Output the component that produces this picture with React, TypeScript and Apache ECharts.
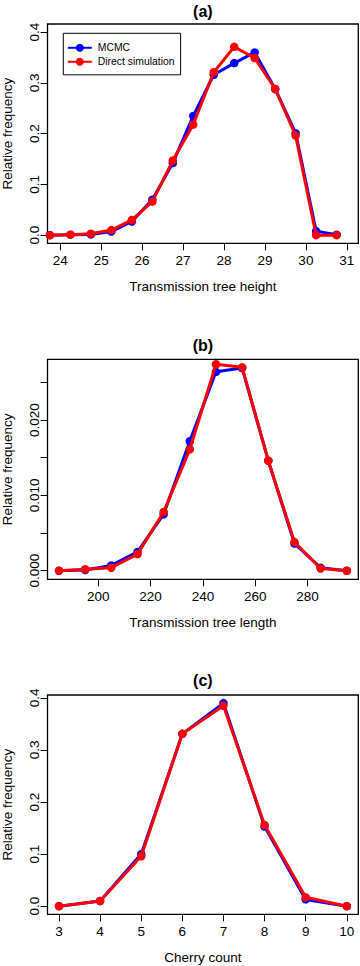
import React, { useEffect, useRef } from "react";
import * as echarts from "echarts";

// Panel (a): transmission tree height
const heightX = [23.75, 24.25, 24.75, 25.25, 25.75, 26.25, 26.75, 27.25, 27.75, 28.25, 28.75, 29.25, 29.75, 30.25, 30.75];
const heightMCMC = [0, 0.001, 0.0015, 0.007, 0.027, 0.07, 0.142, 0.235, 0.316, 0.339, 0.36, 0.288, 0.201, 0.008, 0.001];
const heightDirect = [0, 0.001, 0.003, 0.01, 0.03, 0.066, 0.147, 0.218, 0.321, 0.371, 0.349, 0.288, 0.196, 0, 0];
const heightTicks = [24, 25, 26, 27, 28, 29, 30, 31];

// Panel (b): transmission tree length
const lengthX = [185, 195, 205, 215, 225, 235, 245, 255, 265, 275, 285, 295];
const lengthMCMC = [0, 0.0001, 0.0007, 0.0025, 0.0075, 0.0172, 0.0264, 0.0269, 0.0146, 0.0036, 0.0004, 0];
const lengthDirect = [0, 0.0002, 0.0004, 0.0022, 0.0078, 0.0161, 0.0274, 0.027, 0.0146, 0.0038, 0.0003, 0];
const lengthTicks = [200, 220, 240, 260, 280];

// Panel (c): cherry count
const cherryX = [3, 4, 5, 6, 7, 8, 9, 10];
const cherryMCMC = [0, 0.01, 0.1, 0.331, 0.39, 0.153, 0.013, 0];
const cherryDirect = [0, 0.01, 0.096, 0.331, 0.385, 0.156, 0.017, 0];
const cherryTicks = [3, 4, 5, 6, 7, 8, 9, 10];

const freqTicks = [0, 0.1, 0.2, 0.3, 0.4];
const lengthFreqTicks = [0, 0.005, 0.01, 0.015, 0.02, 0.025];
const lengthFreqLabels = [0, 0.01, 0.02];

const titles = ["(a)", "(b)", "(c)"];
const xNames = ["Transmission tree height", "Transmission tree length", "Cherry count"];
const seriesNames = ["MCMC", "Direct simulation"];

const FONT = '"Liberation Sans", Arial, Helvetica, sans-serif';
const BLUE = "#0000ff";
const RED = "#ff0000";

export default function App() {
  const ref = useRef<HTMLDivElement>(null);

  useEffect(() => {
    document.body.style.margin = "0";
    if (!ref.current) return;
    const chart = echarts.init(ref.current, null, { renderer: "svg" });

    const gridDefs = [
      { left: 47.5, top: 24, width: 310.8, height: 219.3 },
      { left: 47.5, top: 359.3, width: 310.8, height: 220 },
      { left: 47.5, top: 695, width: 310.8, height: 219.3 },
    ];
    const xRanges = [
      [23.69, 31.28],
      [180.6, 299.4],
      [2.72, 10.28],
    ];
    const yRanges = [
      [-0.016, 0.416],
      [-0.00114, 0.02806],
      [-0.0156, 0.4056],
    ];
    const xTicks = [heightTicks, lengthTicks, cherryTicks];
    const yTickVals = [freqTicks, lengthFreqTicks, freqTicks];
    const yLabelVals = [freqTicks, lengthFreqLabels, freqTicks];
    const yDigits = [1, 3, 1];

    const pairs = (xs: number[], ys: number[]) => xs.map((x, i) => [x, ys[i]]);
    const dataSets = [
      [heightX, heightMCMC, heightDirect],
      [lengthX, lengthMCMC, lengthDirect],
      [cherryX, cherryMCMC, cherryDirect],
    ];

    const series: any[] = [];
    dataSets.forEach((d, i) => {
      [BLUE, RED].forEach((c, k) => {
        series.push({
          type: "line",
          name: seriesNames[k],
          xAxisIndex: i,
          yAxisIndex: i,
          data: pairs(d[0] as number[], d[k + 1] as number[]),
          symbol: "circle",
          symbolSize: 8.5,
          showSymbol: true,
          clip: false,
          lineStyle: { color: c, width: 3 },
          itemStyle: { color: c },
          z: 2 + k,
        });
      });
    });

    const option: any = {
      animation: false,
      textStyle: { fontFamily: FONT },
      grid: gridDefs.map((g) => ({
        ...g,
        show: true,
        borderColor: "#000",
        borderWidth: 1.3,
        backgroundColor: "transparent",
        containLabel: false,
        outerBoundsMode: "none",
      })),
      xAxis: gridDefs.map((_, i) => ({
        type: "value",
        gridIndex: i,
        min: xRanges[i][0],
        max: xRanges[i][1],
        axisLine: { show: false, onZero: false },
        splitLine: { show: false },
        axisTick: {
          show: true,
          length: 7,
          lineStyle: { color: "#000", width: 1 },
          customValues: xTicks[i],
        },
        axisLabel: {
          customValues: xTicks[i],
          formatter: (v: number) => String(v),
          fontSize: 13.5,
          color: "#000",
          margin: 10,
          fontFamily: FONT,
        },
        name: xNames[i],
        nameLocation: "middle",
        nameGap: 36,
        nameTextStyle: { fontSize: 13.5, color: "#000", fontFamily: FONT },
      })),
      yAxis: gridDefs.map((_, i) => ({
        type: "value",
        gridIndex: i,
        min: yRanges[i][0],
        max: yRanges[i][1],
        axisLine: { show: false, onZero: false },
        splitLine: { show: false },
        axisTick: {
          show: true,
          length: 7,
          lineStyle: { color: "#000", width: 1 },
          customValues: yTickVals[i],
        },
        axisLabel: {
          customValues: yLabelVals[i],
          formatter: (v: number) => v.toFixed(yDigits[i]),
          rotate: 90,
          fontSize: 13.5,
          color: "#000",
          margin: 6,
          fontFamily: FONT,
        },
        name: "Relative frequency",
        nameLocation: "middle",
        nameGap: 33,
        nameTextStyle: { fontSize: 13.5, color: "#000", fontFamily: FONT },
      })),
      legend: {
        data: seriesNames,
        orient: "vertical",
        left: 63.3,
        top: 33.3,
        padding: [8.5, 6, 7, 3.5],
        itemGap: 2,
        itemWidth: 24,
        itemHeight: 10,
        borderColor: "#000",
        borderWidth: 1,
        backgroundColor: "#fff",
        selectedMode: false,
        textStyle: { fontSize: 10.4, color: "#000", fontFamily: FONT, lineHeight: 12, padding: [0, 0, 0, 1] },
      },
      graphic: titles.map((t, i) => ({
        type: "text",
        x: 202.9,
        y: [11.7, 345.5, 680.5][i],
        style: {
          text: t,
          fill: "#000",
          font: `bold 16px ${FONT}`,
          align: "center",
          verticalAlign: "middle",
        },
      })),
      series,
    };

    chart.setOption(option);
    return () => chart.dispose();
  }, []);

  return <div ref={ref} style={{ width: 360, height: 966 }} />;
}
